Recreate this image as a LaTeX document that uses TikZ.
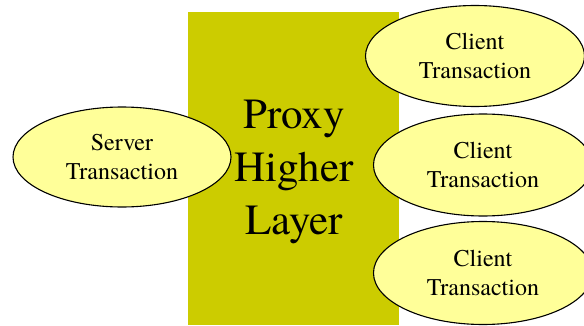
\documentclass[tikz,border=0pt]{standalone}
\usepackage{fontspec}
\setmainfont{texgyretermes-regular.otf}
\usetikzlibrary{shapes.geometric}
\definecolor{layerolive}{HTML}{CCCC00}
\definecolor{txfill}{HTML}{FFFF99}
\tikzset{
  layerbox/.style={fill=layerolive, draw=none},
  txnode/.style={ellipse, draw=black, line width=1.1pt, fill=txfill, inner sep=0pt,
    minimum width=219pt, minimum height=101pt, align=center,
    font=\fontsize{24}{29}\selectfont},
  layertext/.style={align=center, font=\fontsize{43}{53}\selectfont}
}
\begin{document}
\begin{tikzpicture}[x=1pt,y=1pt]
  \useasboundingbox (0,0) rectangle (584,325);
  % proxy core block
  \fill[layerbox] (188,0) rectangle (399,313);
  \node[layertext] (proxy) at (294,153) {Proxy\\Higher\\Layer};
  % transaction ellipses
  \node[txnode, minimum width=218pt, minimum height=100pt] (server) at (122,168) {Server\\Transaction};
  \node[txnode] (client1) at (475,269) {Client\\Transaction};
  \node[txnode, minimum height=102pt] (client2) at (483,160) {Client\\Transaction};
  \node[txnode, minimum height=103pt] (client3) at (483,52) {Client\\Transaction};
\end{tikzpicture}
\end{document}
